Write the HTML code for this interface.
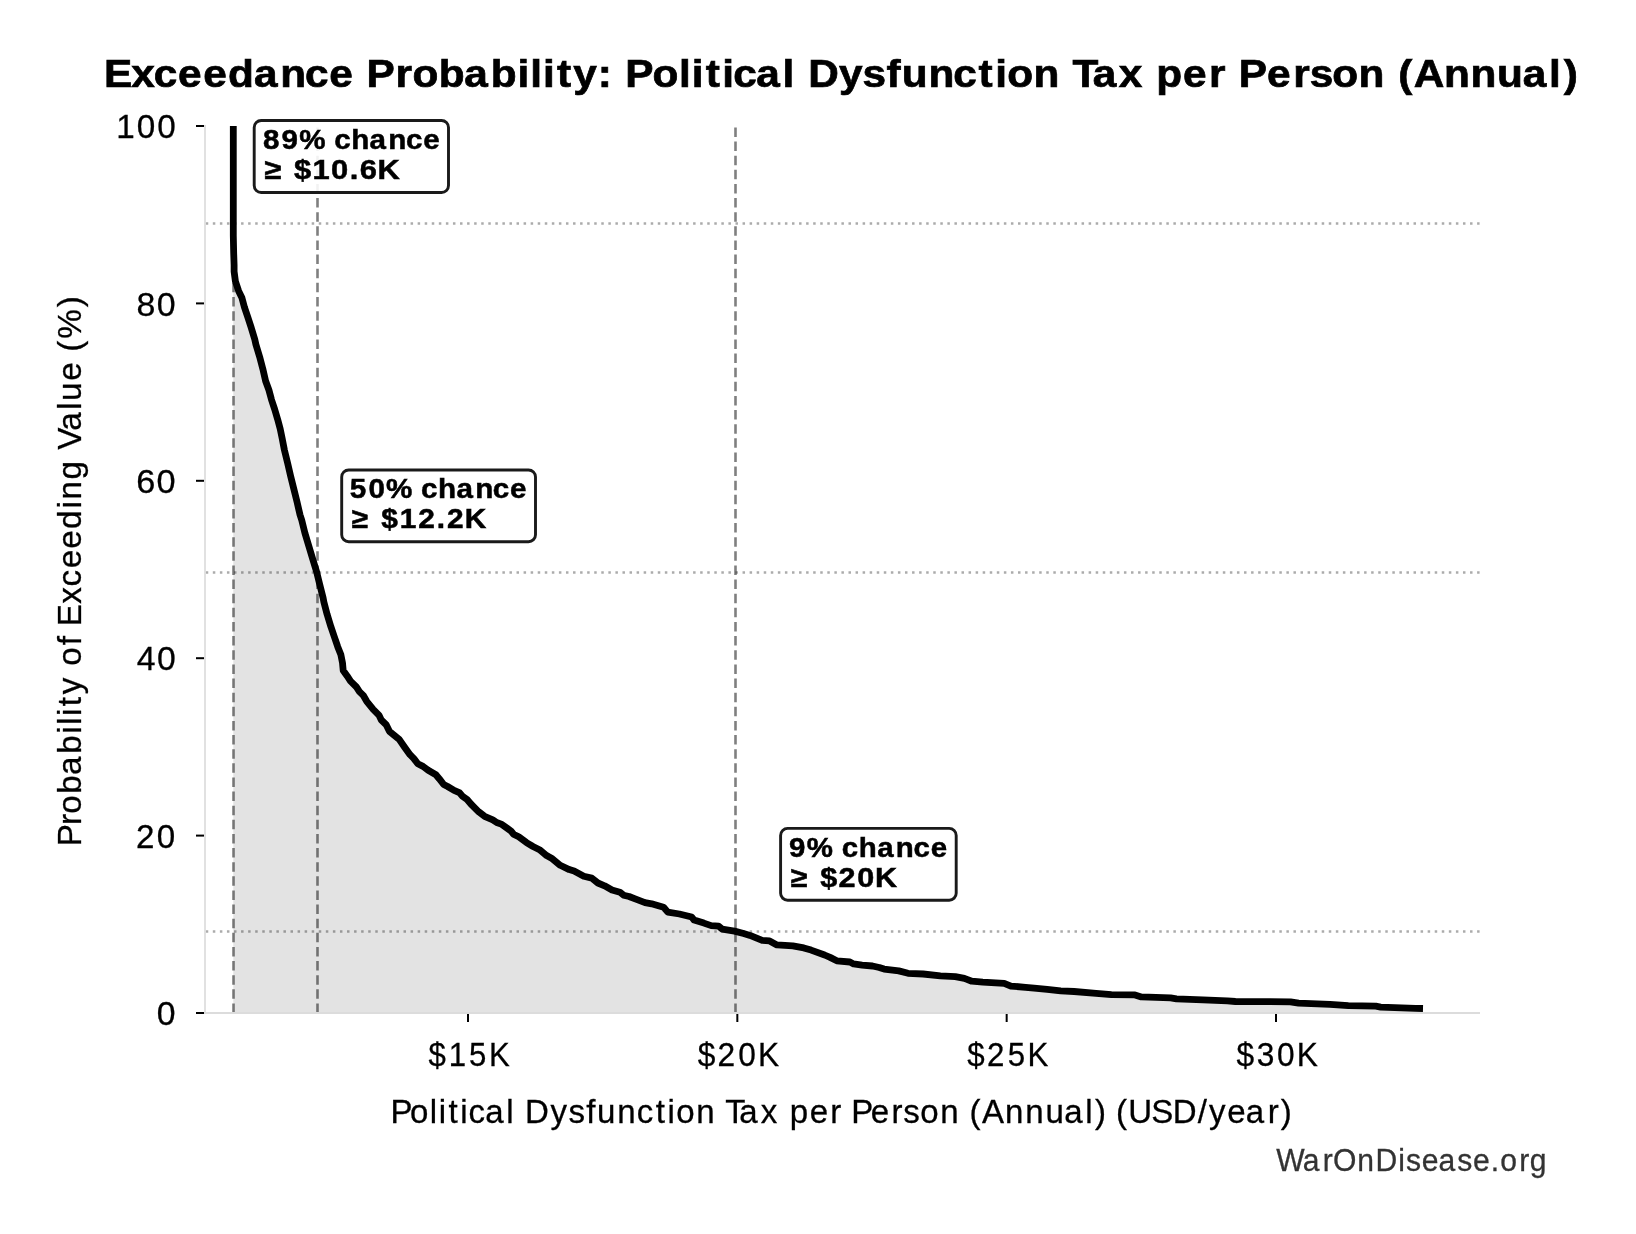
<!DOCTYPE html>
<html><head><meta charset="utf-8"><style>
html,body{margin:0;padding:0;background:#fff;width:1636px;height:1234px;overflow:hidden}
svg{display:block;will-change:transform}
text{font-family:"Liberation Sans",sans-serif}
</style></head><body>
<svg width="1636" height="1234" viewBox="0 0 1636 1234">
<rect width="1636" height="1234" fill="#fff"/>
<path d="M233.3 126 L233.3 200 L233.3 235.7 L233.7 253.5 L234.1 265 L234.1 271.5 L235.4 281.2 L238.6 290.9 L241.8 297.4 L244.4 307.1 L247.7 316.8 L250.9 326.6 L254.8 339.5 L255.9 344.5 L259.6 356.7 L262.8 368.8 L265.6 381 L268.9 390 L271.5 399.7 L274.7 409.4 L277.6 419.2 L280.2 428.9 L282.2 438.6 L284.4 450 L287.6 463 L290.6 475.9 L293.8 488.9 L297 501.8 L300 514.8 L301.7 520 L304.9 533 L308.8 545.9 L312.7 558.9 L316.6 571.8 L319.8 584.8 L323.1 597.8 L323.9 602.1 L327.1 614.3 L330.8 626.4 L334.4 637 L337.7 646.7 L340.9 654.8 L342.5 662.9 L343.2 670.5 L347.3 676.2 L350.5 681.1 L356.2 686.7 L359.4 691.6 L363.5 695.7 L366.7 701.3 L373.2 709.4 L378.9 715.1 L381.3 720 L386.2 724.8 L389.4 731.3 L394.3 735.4 L399.2 739.4 L404.8 747.5 L410 754.7 L413.9 758.6 L417.8 763.8 L423 766.4 L428.2 770.3 L435.9 774.8 L439.2 778.7 L443.7 784.5 L447.6 786.5 L454.1 790.4 L459.3 792.6 L462.5 796.2 L467.1 799.5 L470.9 804 L478.7 811.8 L484.6 816.3 L492.8 819.9 L496.7 822.5 L501.9 824.4 L510.9 830.9 L513.5 834.2 L518.7 836.8 L526.5 842.6 L533 846.5 L539.5 849.7 L546.6 855.6 L552.4 858.8 L560.2 865.3 L569.2 869.6 L574.1 871.1 L583.8 876.3 L591.8 878.1 L597.9 883 L604.6 885.8 L612 890 L619.9 892.2 L623.6 895.2 L629.1 896.5 L635.2 898.9 L645 902.6 L651.7 903.8 L655 904.8 L663.6 907.2 L667.8 912.1 L679.4 914 L691.7 917 L694.1 920.1 L703.9 923.1 L711.2 925.6 L718.6 926.2 L722.2 929.2 L734.5 931.1 L743.6 933.5 L750 935.4 L757.3 938.4 L762.2 940.3 L769.6 940.9 L776.9 944.9 L792.8 945.8 L803.8 947.9 L811.1 950.1 L824.6 955 L830.1 957.4 L836.8 960.8 L849.9 962 L853.6 963.9 L862.1 965.1 L872.5 966 L879.2 967.5 L884.1 969.1 L898.8 970.9 L908 973.3 L923.2 974 L940.4 975.8 L955.3 976.6 L964.4 978.4 L971.8 981.2 L982.8 982.1 L1004.2 983.3 L1010.9 986.1 L1025.6 987.3 L1034.1 988.2 L1047.2 989.4 L1060.7 990.9 L1074.1 991.5 L1096.1 993.3 L1111.4 994.6 L1135 994.9 L1141.3 996.9 L1170.6 997.9 L1176.5 998.9 L1202.9 999.8 L1227.4 1000.8 L1235.4 1001.5 L1290.5 1001.8 L1298.6 1003.2 L1330 1004.4 L1348.3 1005.6 L1375.8 1006.2 L1380.7 1007.1 L1415.6 1008.3 L1423 1008.5 L1423 1013 L233.3 1013 Z" fill="#e3e3e3" stroke="none"/>
<line x1="233.5" y1="1013" x2="233.5" y2="126" stroke="#000" stroke-opacity="0.5" stroke-width="2.6" stroke-dasharray="9.5 4.63"/>
<line x1="317.5" y1="1013" x2="317.5" y2="126" stroke="#000" stroke-opacity="0.5" stroke-width="2.6" stroke-dasharray="9.5 4.63"/>
<line x1="735.5" y1="1013" x2="735.5" y2="126" stroke="#000" stroke-opacity="0.5" stroke-width="2.6" stroke-dasharray="9.5 4.63"/>
<line x1="205.75" y1="223.5" x2="1480" y2="223.5" stroke="#000" stroke-opacity="0.33" stroke-width="2.4" stroke-dasharray="2.5 4.563"/>
<line x1="205.75" y1="572.5" x2="1480" y2="572.5" stroke="#000" stroke-opacity="0.33" stroke-width="2.4" stroke-dasharray="2.5 4.563"/>
<line x1="205.75" y1="931.5" x2="1480" y2="931.5" stroke="#000" stroke-opacity="0.33" stroke-width="2.4" stroke-dasharray="2.5 4.563"/>
<line x1="205" y1="125" x2="205" y2="1014" stroke="#dcdcdc" stroke-width="1.7"/>
<line x1="204" y1="1013" x2="1480" y2="1013" stroke="#dcdcdc" stroke-width="2"/>
<line x1="196" y1="1013.00" x2="204" y2="1013.00" stroke="#000" stroke-width="2"/>
<line x1="196" y1="835.60" x2="204" y2="835.60" stroke="#000" stroke-width="2"/>
<line x1="196" y1="658.20" x2="204" y2="658.20" stroke="#000" stroke-width="2"/>
<line x1="196" y1="480.80" x2="204" y2="480.80" stroke="#000" stroke-width="2"/>
<line x1="196" y1="303.40" x2="204" y2="303.40" stroke="#000" stroke-width="2"/>
<line x1="196" y1="126.00" x2="204" y2="126.00" stroke="#000" stroke-width="2"/>
<line x1="468.00" y1="1014" x2="468.00" y2="1022" stroke="#000" stroke-width="2"/>
<line x1="737.33" y1="1014" x2="737.33" y2="1022" stroke="#000" stroke-width="2"/>
<line x1="1006.67" y1="1014" x2="1006.67" y2="1022" stroke="#000" stroke-width="2"/>
<line x1="1276.00" y1="1014" x2="1276.00" y2="1022" stroke="#000" stroke-width="2"/>
<path d="M233.3 126 L233.3 200 L233.3 235.7 L233.7 253.5 L234.1 265 L234.1 271.5 L235.4 281.2 L238.6 290.9 L241.8 297.4 L244.4 307.1 L247.7 316.8 L250.9 326.6 L254.8 339.5 L255.9 344.5 L259.6 356.7 L262.8 368.8 L265.6 381 L268.9 390 L271.5 399.7 L274.7 409.4 L277.6 419.2 L280.2 428.9 L282.2 438.6 L284.4 450 L287.6 463 L290.6 475.9 L293.8 488.9 L297 501.8 L300 514.8 L301.7 520 L304.9 533 L308.8 545.9 L312.7 558.9 L316.6 571.8 L319.8 584.8 L323.1 597.8 L323.9 602.1 L327.1 614.3 L330.8 626.4 L334.4 637 L337.7 646.7 L340.9 654.8 L342.5 662.9 L343.2 670.5 L347.3 676.2 L350.5 681.1 L356.2 686.7 L359.4 691.6 L363.5 695.7 L366.7 701.3 L373.2 709.4 L378.9 715.1 L381.3 720 L386.2 724.8 L389.4 731.3 L394.3 735.4 L399.2 739.4 L404.8 747.5 L410 754.7 L413.9 758.6 L417.8 763.8 L423 766.4 L428.2 770.3 L435.9 774.8 L439.2 778.7 L443.7 784.5 L447.6 786.5 L454.1 790.4 L459.3 792.6 L462.5 796.2 L467.1 799.5 L470.9 804 L478.7 811.8 L484.6 816.3 L492.8 819.9 L496.7 822.5 L501.9 824.4 L510.9 830.9 L513.5 834.2 L518.7 836.8 L526.5 842.6 L533 846.5 L539.5 849.7 L546.6 855.6 L552.4 858.8 L560.2 865.3 L569.2 869.6 L574.1 871.1 L583.8 876.3 L591.8 878.1 L597.9 883 L604.6 885.8 L612 890 L619.9 892.2 L623.6 895.2 L629.1 896.5 L635.2 898.9 L645 902.6 L651.7 903.8 L655 904.8 L663.6 907.2 L667.8 912.1 L679.4 914 L691.7 917 L694.1 920.1 L703.9 923.1 L711.2 925.6 L718.6 926.2 L722.2 929.2 L734.5 931.1 L743.6 933.5 L750 935.4 L757.3 938.4 L762.2 940.3 L769.6 940.9 L776.9 944.9 L792.8 945.8 L803.8 947.9 L811.1 950.1 L824.6 955 L830.1 957.4 L836.8 960.8 L849.9 962 L853.6 963.9 L862.1 965.1 L872.5 966 L879.2 967.5 L884.1 969.1 L898.8 970.9 L908 973.3 L923.2 974 L940.4 975.8 L955.3 976.6 L964.4 978.4 L971.8 981.2 L982.8 982.1 L1004.2 983.3 L1010.9 986.1 L1025.6 987.3 L1034.1 988.2 L1047.2 989.4 L1060.7 990.9 L1074.1 991.5 L1096.1 993.3 L1111.4 994.6 L1135 994.9 L1141.3 996.9 L1170.6 997.9 L1176.5 998.9 L1202.9 999.8 L1227.4 1000.8 L1235.4 1001.5 L1290.5 1001.8 L1298.6 1003.2 L1330 1004.4 L1348.3 1005.6 L1375.8 1006.2 L1380.7 1007.1 L1415.6 1008.3 L1423 1008.5" fill="none" stroke="#000" stroke-width="6.8" stroke-linejoin="round" stroke-linecap="butt"/>
<rect x="254.2" y="120.5" width="194.3" height="72" rx="7" ry="7" fill="#fff" fill-opacity="0.9" stroke="#1a1a1a" stroke-width="2.9"/>
<rect x="341.7" y="470" width="193.8" height="71.7" rx="7" ry="7" fill="#fff" fill-opacity="0.9" stroke="#1a1a1a" stroke-width="2.9"/>
<rect x="780.6" y="828.4" width="175.6" height="71.8" rx="7" ry="7" fill="#fff" fill-opacity="0.9" stroke="#1a1a1a" stroke-width="2.9"/>
<text font-size="39.2" font-weight="bold" stroke="#000" stroke-width="0.7" transform="scale(1.08138 1)" x="96.08 121.42 142.17 164.52 187.94 210.93 234.88 259.09 282.05 304.4 339.03 365.81 381.44 405.84 429.41 453.85 478.48 490.31 502.15 515.05 530.2 552.87 578.14 603.51 627.83 639.67 652.57 668 678.07 699.25 723.6 747.33 775.82 797.69 819.76 833.98 858.61 881.57 904.87 920.31 931.53 955.71 991.75 1010.5 1034.61 1069.22 1093.98 1118.07 1145.64 1171.74 1195.83 1211.13 1232 1256.17 1292.94 1307.44 1335.27 1359.85 1384.38 1408.09 1432.45 1446.01" y="87.1">ExceedanceProbability:PoliticalDysfunctionTaxperPerson(Annual)</text>
<text font-size="34" stroke="#000" stroke-width="0.3" transform="scale(0.97828 1)" x="118.91 139.89 160.7" y="138.3">100</text>
<text font-size="34" stroke="#000" stroke-width="0.3" transform="scale(0.99745 1)" x="136.76 157.17" y="315.6">80</text>
<text font-size="34" stroke="#000" stroke-width="0.3" transform="scale(1.00917 1)" x="135.03 155.2" y="493">60</text>
<text font-size="34" stroke="#000" stroke-width="0.3" transform="scale(0.99219 1)" x="137.84 158.36" y="670.4">40</text>
<text font-size="34" stroke="#000" stroke-width="0.3" transform="scale(0.97465 1)" x="139.55 160.88" y="847.8">20</text>
<text font-size="34" stroke="#000" stroke-width="0.3" transform="scale(0.99213 1)" x="157.91" y="1025.5">0</text>
<text font-size="34" stroke="#000" stroke-width="0.3" transform="scale(0.91601 1)" x="467.85 489.83 512.07 533.78" y="1065.7">$15K</text>
<text font-size="34" stroke="#000" stroke-width="0.3" transform="scale(0.93147 1)" x="749.07 770.38 792.69 813.85" y="1065.7">$20K</text>
<text font-size="34" stroke="#000" stroke-width="0.3" transform="scale(0.91834 1)" x="1053.2 1074.81 1097.3 1118.94" y="1065.7">$25K</text>
<text font-size="34" stroke="#000" stroke-width="0.3" transform="scale(0.93089 1)" x="1328.2 1350.01 1371.84 1393.02" y="1065.7">$30K</text>
<text font-size="33.6" stroke="#000" stroke-width="0.3" transform="scale(0.98331 1)" x="397.14 417.05 437.13 446.19 456.05 467.99 476.39 493.53 514.85 533.9 559.73 578.07 596.2 607.07 627.84 647.59 666.95 678.88 687.74 708.07 737.69 751.92 773.61 803.25 823.45 844.47 865.61 885.64 906.66 918.61 935.88 956.21 986.05 998.75 1022.14 1042.77 1063.25 1082.39 1103.71 1113.56 1134.91 1147.47 1170.82 1192.63 1218.05 1229.42 1248.19 1266.89 1289.16 1302.4" y="1123">PoliticalDysfunctionTaxperPerson(Annual)(USD/year)</text>
<text font-size="33.6" stroke="#000" stroke-width="0.3" transform="translate(81 842) rotate(-90) scale(0.98876 1)" x="-4.43 17.11 28.56 48.93 67.7 89.31 109.5 118.47 127.48 137.29 149.55 178.39 199.07 218.22 240.86 258.46 276.81 296.72 316.69 337.28 346.47 366.73 396.69 415.83 437.06 446.13 466.48 495.87 509.07 540.95" y="0">ProbabilityofExceedingValue(%)</text>
<text font-size="30.8" fill="#333333" stroke="#333333" stroke-width="0.3" transform="scale(0.97760 1)" x="1305.6 1332.58 1353.09 1363.63 1388.42 1406.91 1430.29 1438.19 1454.22 1471.47 1490.67 1506.7 1524.91 1534.6 1553.97 1564.91" y="1170.8">WarOnDisease.org</text>
<text font-size="28.1" font-weight="bold" stroke="#000" stroke-width="0.5" transform="scale(1.05383 1)" x="249.52 267.04 283.99 317.18 333.33 350.73 368.47 385.29 401.67" y="149">89%chance</text>
<text font-size="28.1" font-weight="bold" stroke="#000" stroke-width="0.5" transform="scale(1.10069 1)" x="240.16 267.21 283.97 300.81 317.75 326.95 343" y="178.9">≥$10.6K</text>
<text font-size="28.1" font-weight="bold" stroke="#000" stroke-width="0.5" transform="scale(1.05414 1)" x="331.9 349.48 366.28 399.47 415.61 433 450.74 467.55 483.93" y="497.9">50%chance</text>
<text font-size="28.1" font-weight="bold" stroke="#000" stroke-width="0.5" transform="scale(1.06409 1)" x="330.36 358.34 375.69 393.05 410.47 420 436.84" y="528.2">≥$12.2K</text>
<text font-size="28.1" font-weight="bold" stroke="#000" stroke-width="0.5" transform="scale(1.04838 1)" x="752.54 769.6 802.95 819.18 836.67 854.51 871.41 887.88" y="856.8">9%chance</text>
<text font-size="28.1" font-weight="bold" stroke="#000" stroke-width="0.5" transform="scale(1.08822 1)" x="726.36 753.72 770.61 787.7 804.05" y="886.7">≥$20K</text>
</svg>
</body></html>
